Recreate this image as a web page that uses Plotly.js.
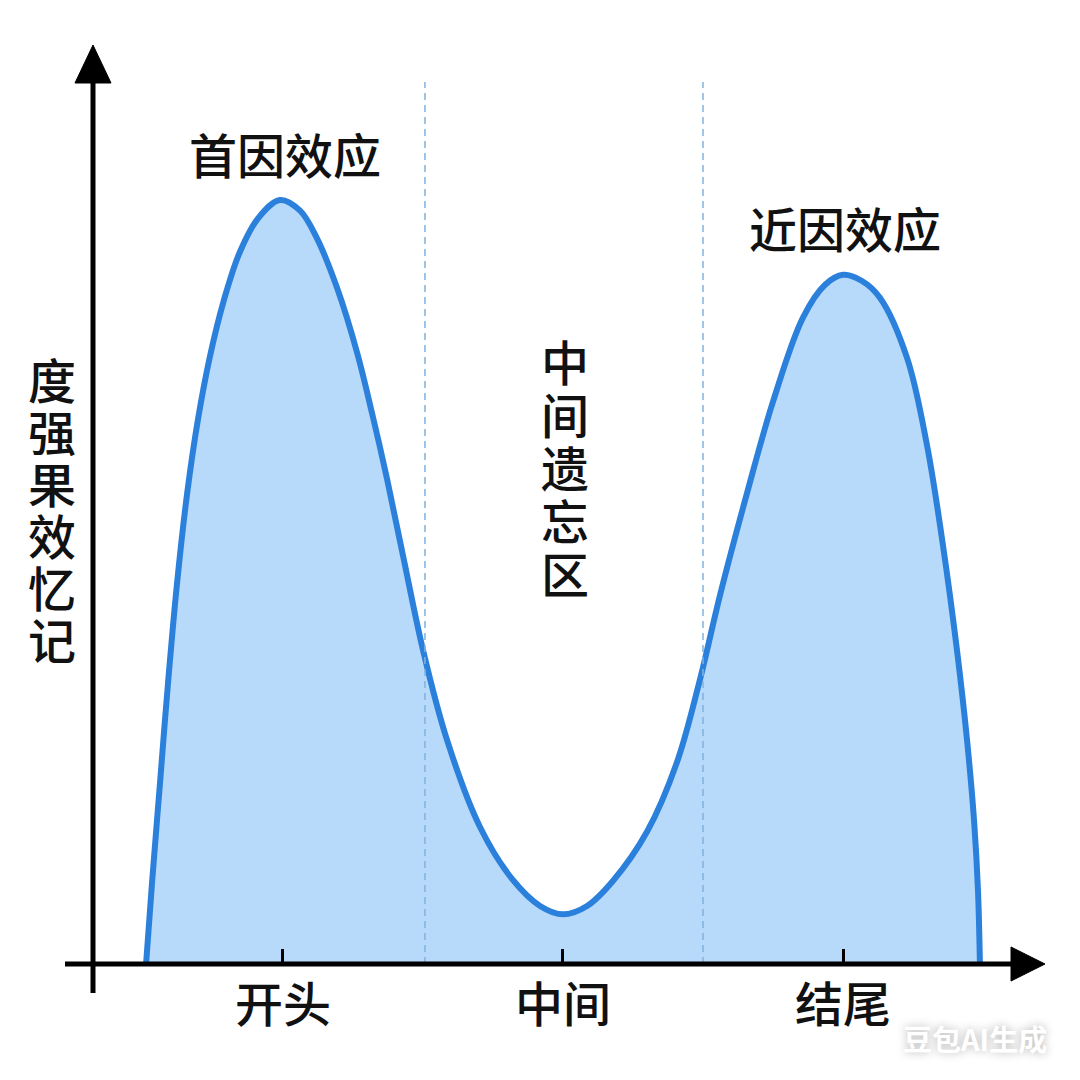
<!DOCTYPE html>
<html>
<head>
<meta charset="utf-8">
<script src="https://cdn.plot.ly/plotly-3.0.1.min.js"></script>
<style>
  html, body { margin: 0; padding: 0; background: #ffffff; }
  #chart { width: 1080px; height: 1080px; }
</style>
</head>
<body>
<div id="chart"></div>
<script>
// ---- data ----
const categories = ["开头", "中间", "结尾"];
const categoryPositions = [1, 2, 3];
const boundaryPositions = [1.507, 2.5];
const position = [0.511,0.532,0.561,0.589,0.621,0.657,0.696,0.739,0.789,0.846,0.911,0.989,
  1.061,1.121,1.193,1.264,1.318,1.371,1.429,1.500,1.586,1.704,1.821,1.918,2.000,
  2.086,2.179,2.300,2.407,2.489,2.561,2.657,2.750,2.857,2.936,3.000,
  3.068,3.132,3.229,3.300,3.357,3.407,3.443,3.468,3.482,3.489];
const strength = [0,10.5,23.8,36.6,49.6,61.4,71.2,79.5,86.9,93.2,97.6,100.0,
  98.6,95.0,88.5,80.1,72.1,63.6,53.4,41.1,29.3,17.9,11.0,7.6,6.5,
  7.6,10.9,17.3,26.4,37.2,48.3,61.6,73.6,84.6,88.9,90.2,
  89.4,87.2,79.3,67.9,54.8,41.1,29.3,18.8,9.7,0];
const yTitleChars = ["度", "强", "果", "效", "忆", "记"];
const middleChars = ["中", "间", "遗", "忘", "区"];
const primacyLabel = "首因效应";
const recencyLabel = "近因效应";
const watermark = "豆包AI生成";

// ---- layout geometry ----
const W = 1080, H = 1080;
const M = {l: 60, r: 30, t: 40, b: 80};
const xRange = [0.2036, 3.7393];
const yRange = [-4.712, 120.94];
const FONT = '"Noto Sans CJK SC", "Noto Sans", sans-serif';
const plotW = W - M.l - M.r, plotH = H - M.t - M.b;
const pxX = px => (px - M.l) / plotW;          // pixel -> paper x
const pxY = py => (H - M.b - py) / plotH;      // pixel -> paper y
const dX = px => xRange[0] + (px - M.l) / plotW * (xRange[1] - xRange[0]);
const dY = py => yRange[1] - (py - M.t) / plotH * (yRange[1] - yRange[0]);

const curve = {
  x: position, y: strength,
  type: 'scatter', mode: 'lines',
  line: {color: '#2b80dc', width: 6, shape: 'spline', smoothing: 1},
  fill: 'tozeroy', fillcolor: '#b7d9fa',
  hoverinfo: 'skip', showlegend: false
};

const shapes = [];
boundaryPositions.forEach(b => shapes.push({
  type: 'line', xref: 'x', yref: 'y', x0: b, x1: b, y0: 0, y1: dY(82),
  line: {color: '#80b2df', width: 1.5, dash: '7px,5px'}, layer: 'above'
}));
// axis lines
shapes.push({type: 'line', xref: 'x', yref: 'y', x0: dX(65), x1: dX(1020), y0: 0, y1: 0,
  line: {color: '#000', width: 5}, layer: 'above'});
shapes.push({type: 'line', xref: 'x', yref: 'y', x0: dX(93), x1: dX(93), y0: dY(993), y1: dY(75),
  line: {color: '#000', width: 5}, layer: 'above'});
// arrow heads
shapes.push({type: 'path', xref: 'x', yref: 'y', layer: 'above',
  path: `M ${dX(93)} ${dY(45)} L ${dX(75)} ${dY(83)} L ${dX(111)} ${dY(83)} Z`,
  fillcolor: '#000', line: {color: '#000', width: 1}});
shapes.push({type: 'path', xref: 'x', yref: 'y', layer: 'above',
  path: `M ${dX(1045)} 0 L ${dX(1011)} ${dY(947)} L ${dX(1011)} ${dY(981)} Z`,
  fillcolor: '#000', line: {color: '#000', width: 1}});

const textFont = {family: FONT, size: 48, color: '#111', weight: 500};
// stacked vertical text: small base size sets tight line pitch, glyphs enlarged per span
const stack = chars => chars.map(c => `<span style="font-size:48px">${c}</span>`).join('<br>');
const annotations = [];
annotations.push({
  text: stack(yTitleChars), xref: 'paper', yref: 'paper', x: pxX(52), y: pxY(508),
  xanchor: 'center', yanchor: 'middle', showarrow: false,
  font: {family: FONT, size: 40, color: '#111', weight: 500}
});
annotations.push({
  text: stack(middleChars), xref: 'paper', yref: 'paper', x: pxX(565), y: pxY(466),
  xanchor: 'center', yanchor: 'middle', showarrow: false,
  font: {family: FONT, size: 40.8, color: '#111', weight: 500}
});
annotations.push({text: primacyLabel, xref: 'paper', yref: 'paper', x: pxX(285), y: pxY(153),
  xanchor: 'center', yanchor: 'middle', showarrow: false, font: textFont});
annotations.push({text: recencyLabel, xref: 'paper', yref: 'paper', x: pxX(845), y: pxY(227),
  xanchor: 'center', yanchor: 'middle', showarrow: false, font: textFont});
annotations.push({text: watermark, xref: 'paper', yref: 'paper', x: pxX(975), y: pxY(1038),
  xanchor: 'center', yanchor: 'middle', showarrow: false,
  font: {family: FONT, size: 29, color: '#ffffff', weight: 'bold',
         shadow: '0px 0px 10px rgba(0,0,0,0.3)'}});

const layout = {
  width: W, height: H,
  margin: M,
  paper_bgcolor: '#ffffff', plot_bgcolor: '#ffffff',
  showlegend: false,
  xaxis: {
    range: xRange, anchor: 'free', position: pxY(964),
    tickvals: categoryPositions, ticktext: categories,
    ticks: 'inside', ticklen: 15, tickwidth: 3, tickcolor: '#000',
    ticklabelstandoff: 9,
    showline: false, showgrid: false, zeroline: false,
    tickfont: textFont,
    fixedrange: true
  },
  yaxis: {
    range: yRange, visible: false, fixedrange: true
  },
  shapes: shapes,
  annotations: annotations
};

Plotly.newPlot('chart', [curve], layout, {displayModeBar: false, staticPlot: true});
</script>
</body>
</html>
